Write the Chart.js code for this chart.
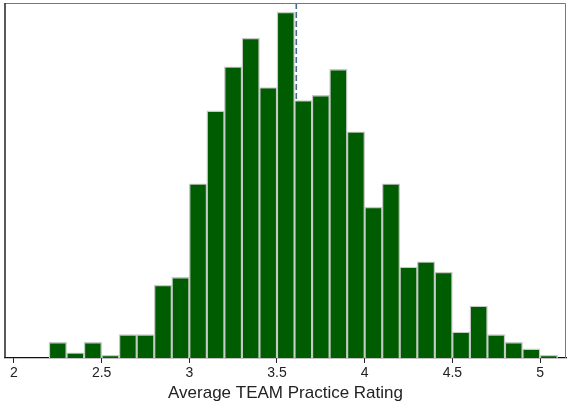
<!DOCTYPE html>
<html>
<head>
<meta charset="utf-8">
<script src="https://cdn.jsdelivr.net/npm/chart.js@4"></script>
<style>
  html, body { margin: 0; padding: 0; background: #fff; }
  #wrap { width: 569px; height: 404px; }
</style>
</head>
<body>
<div id="wrap"><canvas id="hist" width="569" height="404"></canvas></div>
<script>
// bin centres (width 0.1) and number of teachers in each bin
let binCenters = [2.25, 2.35, 2.45, 2.55, 2.65, 2.75, 2.85, 2.95,
  3.05, 3.15, 3.25, 3.35, 3.45, 3.55, 3.65, 3.75, 3.85, 3.95,
  4.05, 4.15, 4.25, 4.35, 4.45, 4.55, 4.65, 4.75, 4.85, 4.95, 5.05];
let counts = [6, 2, 6, 1, 9, 9, 28, 31,
  67, 95, 112, 123, 104, 133, 99, 101, 111, 87,
  58, 67, 35, 37, 33, 10, 20, 9, 6, 3.5, 1];
let xTicks = [2, 2.5, 3, 3.5, 4, 4.5, 5];
let meanRating = 3.61;
let xTitle = 'Average TEAM Practice Rating';

let points = binCenters.map((x, i) => ({x: x, y: counts[i]}));

// dashed reference line, drawn behind the bars
let meanLine = {
  id: 'meanLine',
  beforeDatasetsDraw(chart) {
    let ctx = chart.ctx;
    let area = chart.chartArea;
    let x = chart.scales.x.getPixelForValue(meanRating);
    ctx.save();
    ctx.strokeStyle = '#4a6a8c';
    ctx.lineWidth = 1.6;
    ctx.setLineDash([6, 3]);
    ctx.beginPath();
    ctx.moveTo(x, area.top);
    ctx.lineTo(x, area.bottom);
    ctx.stroke();
    ctx.restore();
  }
};

// plot region outline
let frame = {
  id: 'frame',
  beforeDatasetsDraw(chart) {
    let ctx = chart.ctx;
    let a = chart.chartArea;
    ctx.save();
    ctx.lineWidth = 1;
    ctx.strokeStyle = '#777';
    ctx.beginPath();
    ctx.moveTo(a.left, a.top + 0.5);
    ctx.lineTo(a.right - 0.5, a.top + 0.5);
    ctx.lineTo(a.right - 0.5, a.bottom);
    ctx.stroke();
    ctx.strokeStyle = '#222';
    ctx.lineWidth = 1.5;
    ctx.beginPath();
    ctx.moveTo(a.left, a.top);
    ctx.lineTo(a.left, a.bottom);
    ctx.stroke();
    ctx.restore();
  }
};

new Chart(document.getElementById('hist'), {
  type: 'bar',
  data: {
    datasets: [{
      data: points,
      backgroundColor: '#005c00',
      borderColor: '#c6cac6',
      borderWidth: 1.4,
      barPercentage: 1,
      categoryPercentage: 1
    }]
  },
  plugins: [meanLine, frame],
  options: {
    responsive: false,
    animation: false,
    events: [],
    layout: {
      padding: {left: 5, right: 3, top: 3, bottom: 0}
    },
    plugins: {
      legend: {display: false},
      tooltip: {enabled: false}
    },
    scales: {
      x: {
        type: 'linear',
        offset: false,
        min: 1.949,
        max: 5.148,
        afterBuildTicks: (scale) => {
          scale.ticks = xTicks.map(v => ({value: v}));
        },
        afterFit: (scale) => {
          scale.height = 46;
        },
        grid: {
          offset: false,
          drawOnChartArea: false,
          drawTicks: true,
          tickLength: 5,
          color: '#222'
        },
        border: {display: true, color: '#111', width: 1.2},
        ticks: {
          autoSkip: false,
          maxRotation: 0,
          padding: 2,
          color: '#222',
          font: {family: 'Liberation Sans, Arial, sans-serif', size: 14},
          callback: (v) => String(v)
        },
        title: {
          display: true,
          text: xTitle,
          color: '#222',
          padding: {top: 0, bottom: 0},
          font: {family: 'Liberation Sans, Arial, sans-serif', size: 17}
        }
      },
      y: {
        display: false,
        min: 0,
        max: 136.5
      }
    }
  }
});
</script>
</body>
</html>
